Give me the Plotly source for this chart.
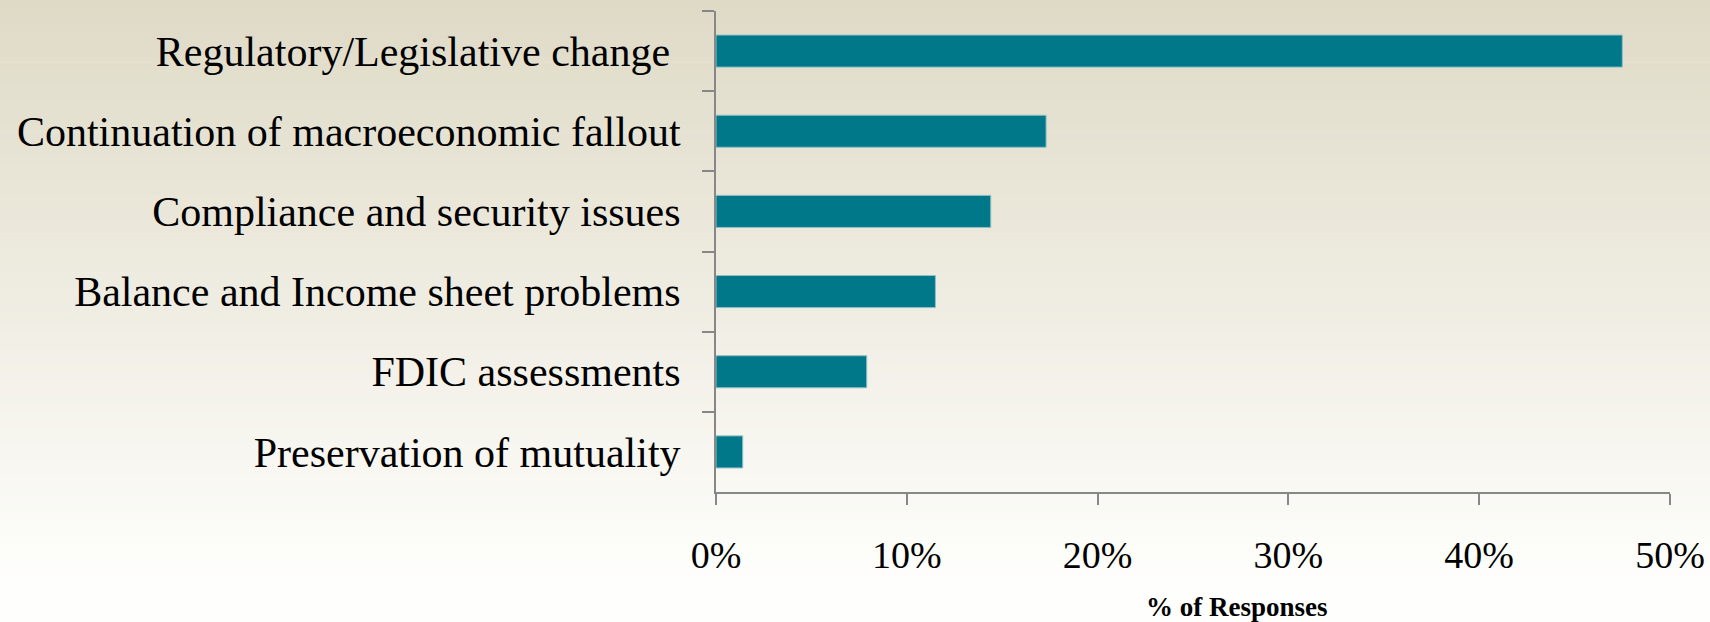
import plotly.graph_objects as go

# Survey responses: main concerns (% of responses)
categories = [
    "Regulatory/Legislative change\u00a0",
    "Continuation of macroeconomic fallout",
    "Compliance and security issues",
    "Balance and Income sheet problems",
    "FDIC assessments",
    "Preservation of mutuality",
]
pct_responses = [47.5, 17.3, 14.4, 11.5, 7.9, 1.4]
x_tick_values = [0, 10, 20, 30, 40, 50]
x_tick_labels = ["0%", "10%", "20%", "30%", "40%", "50%"]

W, H = 1710, 622
M_L, M_R, M_T, M_B = 716, 40, 11, 130

FONT = "Liberation Serif, Times New Roman, serif"
AXIS_GREY = "#878787"

fig = go.Figure(
    go.Bar(
        x=pct_responses,
        y=categories,
        orientation="h",
        width=0.4,
        marker=dict(color="#00788a", line=dict(color="#8fbfc4", width=1)),
        hoverinfo="x+y",
    )
)

# Vertical background gradient, tan at the top fading to near white
shapes = []
n_strips = 80
top_rgb = (223, 218, 198)
bot_rgb = (254, 254, 252)
fade_end = 580.0
plot_h = H - M_T - M_B
plot_w = W - M_L - M_R
for i in range(n_strips):
    y0_px = H * i / n_strips
    y1_px = H * (i + 1) / n_strips + 0.6
    t = min(1.0, ((y0_px + y1_px) / 2) / fade_end)
    col = tuple(round(a + (b - a) * t) for a, b in zip(top_rgb, bot_rgb))
    shapes.append(dict(
        type="rect", xref="paper", yref="paper", layer="below",
        x0=-M_L / plot_w - 0.01, x1=1 + M_R / plot_w + 0.01,
        y0=1 + (M_T - y1_px) / plot_h, y1=1 + (M_T - y0_px) / plot_h,
        fillcolor="rgb(%d,%d,%d)" % col, line=dict(width=0),
    ))

fig.update_layout(
    width=W, height=H,
    margin=dict(l=M_L, r=M_R, t=M_T, b=M_B, pad=0, autoexpand=False),
    paper_bgcolor="#fefefc",
    plot_bgcolor="rgba(0,0,0,0)",
    showlegend=False,
    shapes=shapes,
    font=dict(family=FONT, color="#000000"),
    xaxis=dict(
        range=[0, 50],
        tickvals=x_tick_values,
        ticktext=x_tick_labels,
        showgrid=False,
        zeroline=False,
        showline=True, linecolor=AXIS_GREY, linewidth=2,
        ticks="outside", ticklen=11, tickwidth=2, tickcolor=AXIS_GREY,
        tickfont=dict(family=FONT, size=38, color="#000000"),
        ticklabelstandoff=17,
        automargin=False,
        fixedrange=True,
    ),
    yaxis=dict(
        autorange="reversed",
        showgrid=False,
        zeroline=False,
        showline=True, linecolor=AXIS_GREY, linewidth=2,
        ticks="outside", tickson="boundaries", ticklen=12, tickwidth=2,
        tickcolor=AXIS_GREY,
        tickfont=dict(family=FONT, size=42, color="#000000"),
        ticklabelstandoff=25,
        automargin=False,
        fixedrange=True,
    ),
    annotations=[dict(
        text="<b>% of Responses</b>",
        xref="paper", yref="paper",
        x=(1237 - M_L) / plot_w,
        y=(H - M_B - 607) / plot_h,
        xanchor="center", yanchor="middle",
        showarrow=False,
        font=dict(family=FONT, size=27, color="#000000"),
    )],
)

fig.write_html("out.html")
